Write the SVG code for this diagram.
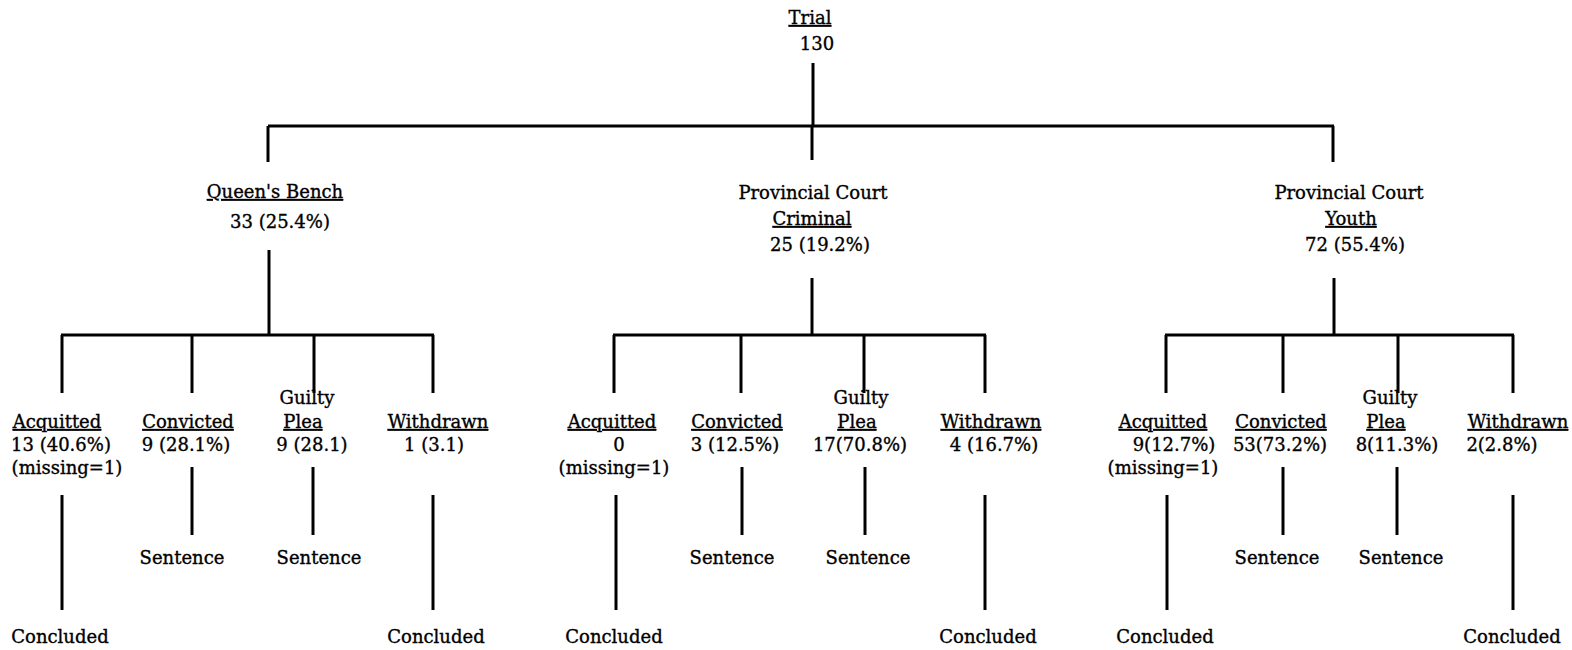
<svg xmlns="http://www.w3.org/2000/svg" width="1572" height="650" viewBox="0 0 1572 650">
<style>
text{font-family:"DejaVu Serif","Liberation Serif",serif;font-size:18px;fill:#000;stroke:#000;stroke-width:0.35;text-anchor:middle}
.u{text-decoration:underline}
.c line{stroke:#000;stroke-width:3;stroke-linecap:butt}
</style>
<rect width="1572" height="650" fill="#fff"/>
<g class="c" id="connectors">
<line x1="813" y1="63" x2="813" y2="126"/>
<line x1="268" y1="126" x2="1334" y2="126"/>
<line x1="268" y1="126" x2="268" y2="162"/>
<line x1="812" y1="126" x2="812" y2="160"/>
<line x1="1333" y1="126" x2="1333" y2="162"/>
<line x1="269" y1="250" x2="269" y2="335"/>
<line x1="61" y1="335" x2="434" y2="335"/>
<line x1="62" y1="335" x2="62" y2="393"/>
<line x1="192" y1="335" x2="192" y2="393"/>
<line x1="314" y1="335" x2="314" y2="393"/>
<line x1="433" y1="335" x2="433" y2="393"/>
<line x1="812" y1="278" x2="812" y2="335"/>
<line x1="613" y1="335" x2="986" y2="335"/>
<line x1="614" y1="335" x2="614" y2="393"/>
<line x1="741" y1="335" x2="741" y2="393"/>
<line x1="864" y1="335" x2="864" y2="393"/>
<line x1="985" y1="335" x2="985" y2="393"/>
<line x1="1334" y1="278" x2="1334" y2="335"/>
<line x1="1165" y1="335" x2="1514" y2="335"/>
<line x1="1166" y1="335" x2="1166" y2="393"/>
<line x1="1283" y1="335" x2="1283" y2="393"/>
<line x1="1398" y1="335" x2="1398" y2="393"/>
<line x1="1513" y1="335" x2="1513" y2="393"/>
<line x1="62" y1="495" x2="62" y2="610"/>
<line x1="192" y1="467" x2="192" y2="535"/>
<line x1="313" y1="467" x2="313" y2="535"/>
<line x1="433" y1="495" x2="433" y2="610"/>
<line x1="616" y1="495" x2="616" y2="610"/>
<line x1="742" y1="467" x2="742" y2="535"/>
<line x1="865" y1="467" x2="865" y2="535"/>
<line x1="985" y1="495" x2="985" y2="610"/>
<line x1="1167" y1="495" x2="1167" y2="610"/>
<line x1="1283" y1="467" x2="1283" y2="535"/>
<line x1="1397" y1="467" x2="1397" y2="535"/>
<line x1="1513" y1="495" x2="1513" y2="610"/>
</g>
<g id="trial"><text x="810" y="24" class="u">Trial</text><text x="817" y="50">130</text></g>
<g id="qb"><text x="275" y="198" class="u">Queen's Bench</text><text x="280" y="228">33 (25.4%)</text></g>
<g id="pcc"><text x="813" y="199">Provincial Court</text><text x="812" y="225" class="u">Criminal</text><text x="820" y="251">25 (19.2%)</text></g>
<g id="pcy"><text x="1349" y="199">Provincial Court</text><text x="1351" y="225" class="u">Youth</text><text x="1355" y="251">72 (55.4%)</text></g>

<g id="qb-acq"><text x="57" y="428" class="u">Acquitted</text><text x="61" y="451">13 (40.6%)</text><text x="67" y="474">(missing=1)</text></g>
<g id="qb-conv"><text x="188" y="428" class="u">Convicted</text><text x="186" y="451">9 (28.1%)</text></g>
<g id="qb-gp"><text x="307" y="404">Guilty</text><text x="303" y="428" class="u">Plea</text><text x="312" y="451">9 (28.1)</text></g>
<g id="qb-wd"><text x="438" y="428" class="u">Withdrawn</text><text x="434" y="451">1 (3.1)</text></g>
<g id="qb-s1"><text x="182" y="564">Sentence</text></g>
<g id="qb-s2"><text x="319" y="564">Sentence</text></g>
<g id="qb-c1"><text x="60" y="643">Concluded</text></g>
<g id="qb-c2"><text x="436" y="643">Concluded</text></g>

<g id="pcc-acq"><text x="612" y="428" class="u">Acquitted</text><text x="619" y="451">0</text><text x="614" y="474">(missing=1)</text></g>
<g id="pcc-conv"><text x="737" y="428" class="u">Convicted</text><text x="735" y="451">3 (12.5%)</text></g>
<g id="pcc-gp"><text x="861" y="404">Guilty</text><text x="857" y="428" class="u">Plea</text><text x="860" y="451">17(70.8%)</text></g>
<g id="pcc-wd"><text x="991" y="428" class="u">Withdrawn</text><text x="994" y="451">4 (16.7%)</text></g>
<g id="pcc-s1"><text x="732" y="564">Sentence</text></g>
<g id="pcc-s2"><text x="868" y="564">Sentence</text></g>
<g id="pcc-c1"><text x="614" y="643">Concluded</text></g>
<g id="pcc-c2"><text x="988" y="643">Concluded</text></g>

<g id="pcy-acq"><text x="1163" y="428" class="u">Acquitted</text><text x="1174" y="451">9(12.7%)</text><text x="1163" y="474">(missing=1)</text></g>
<g id="pcy-conv"><text x="1281" y="428" class="u">Convicted</text><text x="1280" y="451">53(73.2%)</text></g>
<g id="pcy-gp"><text x="1390" y="404">Guilty</text><text x="1386" y="428" class="u">Plea</text><text x="1397" y="451">8(11.3%)</text></g>
<g id="pcy-wd"><text x="1518" y="428" class="u">Withdrawn</text><text x="1502" y="451">2(2.8%)</text></g>
<g id="pcy-s1"><text x="1277" y="564">Sentence</text></g>
<g id="pcy-s2"><text x="1401" y="564">Sentence</text></g>
<g id="pcy-c1"><text x="1165" y="643">Concluded</text></g>
<g id="pcy-c2"><text x="1512" y="643">Concluded</text></g>
</svg>
